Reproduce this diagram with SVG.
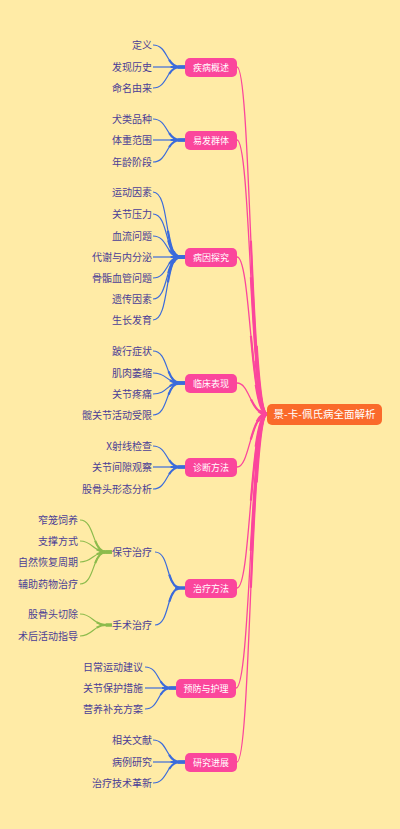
<svg xmlns="http://www.w3.org/2000/svg" xmlns:xlink="http://www.w3.org/1999/xlink" width="400" height="829" viewBox="0 0 400 829">
<style>
text{font-family:"Noto Sans CJK SC","Noto Sans",sans-serif}
.lbl{font-size:10px;fill:#4B3E96;text-anchor:end}
.bt{font-size:9px;fill:#fff;text-anchor:middle}
.rt{font-size:10.5px;fill:#fff;text-anchor:middle}
.box{fill:#FB469C}
.blue use,.green use,.pink use{fill:none}
.b1{stroke:#3B6BDB;stroke-width:1.2}
.b2{stroke:#3B6BDB;stroke-width:2.2;stroke-dasharray:0 55 45}
.b3{stroke:#3B6BDB;stroke-width:3.2;stroke-dasharray:0 82 18}
.g1{stroke:#8CBB4C;stroke-width:1.2}
.g2{stroke:#8CBB4C;stroke-width:2.2;stroke-dasharray:0 55 45}
.g3{stroke:#8CBB4C;stroke-width:3.2;stroke-dasharray:0 82 18}
.p1{stroke:#FB469C;stroke-width:1.3}
.p2{stroke:#FB469C;stroke-width:2.2;stroke-dasharray:0 50 50}
.p3{stroke:#FB469C;stroke-width:3.4;stroke-dasharray:0 80 20}
</style>
<defs>
<path id="b1a" pathLength="100" d="M153,45 C168,45 166,67 180,67 L185,67"/>
<path id="b1b" pathLength="100" d="M153,67 L185,67"/>
<path id="b1c" pathLength="100" d="M153,88 C168,88 166,67 180,67 L185,67"/>
<path id="b2a" pathLength="100" d="M153,119 C168,119 166,140 180,140 L185,140"/>
<path id="b2b" pathLength="100" d="M153,140 L185,140"/>
<path id="b2c" pathLength="100" d="M153,162 C168,162 166,140 180,140 L185,140"/>
<path id="b3a" pathLength="100" d="M153,192 C170,192 164,257 180,257 L185,257"/>
<path id="b3b" pathLength="100" d="M153,214 C169,214 165,257 180,257 L185,257"/>
<path id="b3c" pathLength="100" d="M153,236 C168,236 166,257 180,257 L185,257"/>
<path id="b3d" pathLength="100" d="M153,257 L185,257"/>
<path id="b3e" pathLength="100" d="M153,278 C168,278 166,257 180,257 L185,257"/>
<path id="b3f" pathLength="100" d="M153,299 C169,299 165,257 180,257 L185,257"/>
<path id="b3g" pathLength="100" d="M153,320 C170,320 164,257 180,257 L185,257"/>
<path id="b4a" pathLength="100" d="M153,351 C169,351 165,383 180,383 L185,383"/>
<path id="b4b" pathLength="100" d="M153,373 C168,373 166,383 180,383 L185,383"/>
<path id="b4c" pathLength="100" d="M153,394 C168,394 166,383 180,383 L185,383"/>
<path id="b4d" pathLength="100" d="M153,415 C169,415 165,383 180,383 L185,383"/>
<path id="b5a" pathLength="100" d="M153,446 C168,446 166,467 180,467 L185,467"/>
<path id="b5b" pathLength="100" d="M153,467 L185,467"/>
<path id="b5c" pathLength="100" d="M153,489 C168,489 166,467 180,467 L185,467"/>
<path id="b6a" pathLength="100" d="M155,552 C170,552 166,588 180,588 L185,588"/>
<path id="b6b" pathLength="100" d="M155,625 C170,625 166,588 180,588 L185,588"/>
<path id="b7a" pathLength="100" d="M145,667 C160,667 157,688 171,688 L176,688"/>
<path id="b7b" pathLength="100" d="M145,688 L176,688"/>
<path id="b7c" pathLength="100" d="M145,709 C160,709 157,688 171,688 L176,688"/>
<path id="b8a" pathLength="100" d="M153,740 C168,740 166,762 180,762 L185,762"/>
<path id="b8b" pathLength="100" d="M153,762 L185,762"/>
<path id="b8c" pathLength="100" d="M153,783 C168,783 166,762 180,762 L185,762"/>
<path id="g1" pathLength="100" d="M80,520 C95,520 92,552 106,552 L112,552"/>
<path id="g2" pathLength="100" d="M80,541 C93,541 93,552 106,552 L112,552"/>
<path id="g3" pathLength="100" d="M80,562 C93,562 93,552 106,552 L112,552"/>
<path id="g4" pathLength="100" d="M80,584 C95,584 92,552 106,552 L112,552"/>
<path id="g5" pathLength="100" d="M80,614 C93,614 93,625 106,625 L112,625"/>
<path id="g6" pathLength="100" d="M80,636 C93,636 93,625 106,625 L112,625"/>
<path id="pk1" pathLength="100" d="M237,67 C251,67 250,414 267,414"/>
<path id="pk2" pathLength="100" d="M237,140 C251,140 250,414 267,414"/>
<path id="pk3" pathLength="100" d="M237,257 C251,257 250,414 267,414"/>
<path id="pk4" pathLength="100" d="M237,383 C250,383 250,414 267,414"/>
<path id="pk5" pathLength="100" d="M237,467 C250,467 250,414 267,414"/>
<path id="pk6" pathLength="100" d="M237,588 C251,588 250,414 267,414"/>
<path id="pk7" pathLength="100" d="M236,688 C251,688 250,414 267,414"/>
<path id="pk8" pathLength="100" d="M237,762 C251,762 250,414 267,414"/>
</defs>
<rect width="400" height="829" fill="#FFEBA6"/>
<g id="connectors">
<g class="pink">
<use href="#pk1" class="p1"/><use href="#pk1" class="p2"/><use href="#pk1" class="p3"/>
<use href="#pk2" class="p1"/><use href="#pk2" class="p2"/><use href="#pk2" class="p3"/>
<use href="#pk3" class="p1"/><use href="#pk3" class="p2"/><use href="#pk3" class="p3"/>
<use href="#pk4" class="p1"/><use href="#pk4" class="p2"/><use href="#pk4" class="p3"/>
<use href="#pk5" class="p1"/><use href="#pk5" class="p2"/><use href="#pk5" class="p3"/>
<use href="#pk6" class="p1"/><use href="#pk6" class="p2"/><use href="#pk6" class="p3"/>
<use href="#pk7" class="p1"/><use href="#pk7" class="p2"/><use href="#pk7" class="p3"/>
<use href="#pk8" class="p1"/><use href="#pk8" class="p2"/><use href="#pk8" class="p3"/>
</g>
<g class="blue">
<use href="#b1a" class="b1"/><use href="#b1a" class="b2"/><use href="#b1a" class="b3"/>
<use href="#b1b" class="b1"/><use href="#b1b" class="b2"/><use href="#b1b" class="b3"/>
<use href="#b1c" class="b1"/><use href="#b1c" class="b2"/><use href="#b1c" class="b3"/>
<use href="#b2a" class="b1"/><use href="#b2a" class="b2"/><use href="#b2a" class="b3"/>
<use href="#b2b" class="b1"/><use href="#b2b" class="b2"/><use href="#b2b" class="b3"/>
<use href="#b2c" class="b1"/><use href="#b2c" class="b2"/><use href="#b2c" class="b3"/>
<use href="#b3a" class="b1"/><use href="#b3a" class="b2"/><use href="#b3a" class="b3"/>
<use href="#b3b" class="b1"/><use href="#b3b" class="b2"/><use href="#b3b" class="b3"/>
<use href="#b3c" class="b1"/><use href="#b3c" class="b2"/><use href="#b3c" class="b3"/>
<use href="#b3d" class="b1"/><use href="#b3d" class="b2"/><use href="#b3d" class="b3"/>
<use href="#b3e" class="b1"/><use href="#b3e" class="b2"/><use href="#b3e" class="b3"/>
<use href="#b3f" class="b1"/><use href="#b3f" class="b2"/><use href="#b3f" class="b3"/>
<use href="#b3g" class="b1"/><use href="#b3g" class="b2"/><use href="#b3g" class="b3"/>
<use href="#b4a" class="b1"/><use href="#b4a" class="b2"/><use href="#b4a" class="b3"/>
<use href="#b4b" class="b1"/><use href="#b4b" class="b2"/><use href="#b4b" class="b3"/>
<use href="#b4c" class="b1"/><use href="#b4c" class="b2"/><use href="#b4c" class="b3"/>
<use href="#b4d" class="b1"/><use href="#b4d" class="b2"/><use href="#b4d" class="b3"/>
<use href="#b5a" class="b1"/><use href="#b5a" class="b2"/><use href="#b5a" class="b3"/>
<use href="#b5b" class="b1"/><use href="#b5b" class="b2"/><use href="#b5b" class="b3"/>
<use href="#b5c" class="b1"/><use href="#b5c" class="b2"/><use href="#b5c" class="b3"/>
<use href="#b6a" class="b1"/><use href="#b6a" class="b2"/><use href="#b6a" class="b3"/>
<use href="#b6b" class="b1"/><use href="#b6b" class="b2"/><use href="#b6b" class="b3"/>
<use href="#b7a" class="b1"/><use href="#b7a" class="b2"/><use href="#b7a" class="b3"/>
<use href="#b7b" class="b1"/><use href="#b7b" class="b2"/><use href="#b7b" class="b3"/>
<use href="#b7c" class="b1"/><use href="#b7c" class="b2"/><use href="#b7c" class="b3"/>
<use href="#b8a" class="b1"/><use href="#b8a" class="b2"/><use href="#b8a" class="b3"/>
<use href="#b8b" class="b1"/><use href="#b8b" class="b2"/><use href="#b8b" class="b3"/>
<use href="#b8c" class="b1"/><use href="#b8c" class="b2"/><use href="#b8c" class="b3"/>
</g>
<g class="green">
<use href="#g1" class="g1"/><use href="#g1" class="g2"/><use href="#g1" class="g3"/>
<use href="#g2" class="g1"/><use href="#g2" class="g2"/><use href="#g2" class="g3"/>
<use href="#g3" class="g1"/><use href="#g3" class="g2"/><use href="#g3" class="g3"/>
<use href="#g4" class="g1"/><use href="#g4" class="g2"/><use href="#g4" class="g3"/>
<use href="#g5" class="g1"/><use href="#g5" class="g2"/><use href="#g5" class="g3"/>
<use href="#g6" class="g1"/><use href="#g6" class="g2"/><use href="#g6" class="g3"/>
</g>
</g>
<g id="root"><rect x="267" y="404" width="115" height="21" rx="5" fill="#FA6A2B"/><text class="rt" x="324.5" y="418.3">景-卡-佩氏病全面解析</text></g>
<g id="n1"><rect class="box" x="185" y="58" width="52" height="19" rx="5"/><text class="bt" x="211" y="70.7">疾病概述</text></g>
<g id="n2"><rect class="box" x="185" y="131" width="52" height="19" rx="5"/><text class="bt" x="211" y="143.7">易发群体</text></g>
<g id="n3"><rect class="box" x="185" y="248" width="52" height="19" rx="5"/><text class="bt" x="211" y="260.7">病因探究</text></g>
<g id="n4"><rect class="box" x="185" y="374" width="52" height="19" rx="5"/><text class="bt" x="211" y="386.7">临床表现</text></g>
<g id="n5"><rect class="box" x="185" y="458" width="52" height="19" rx="5"/><text class="bt" x="211" y="470.7">诊断方法</text></g>
<g id="n6"><rect class="box" x="185" y="579" width="52" height="19" rx="5"/><text class="bt" x="211" y="591.7">治疗方法</text></g>
<g id="n7"><rect class="box" x="176" y="679" width="60" height="19" rx="5"/><text class="bt" x="206" y="691.7">预防与护理</text></g>
<g id="n8"><rect class="box" x="185" y="753" width="52" height="19" rx="5"/><text class="bt" x="211" y="765.7">研究进展</text></g>
<g id="n1c"><text class="lbl" x="152" y="48.5">定义</text><text class="lbl" x="152" y="70.5">发现历史</text><text class="lbl" x="152" y="91.5">命名由来</text></g>
<g id="n2c"><text class="lbl" x="152" y="122.5">犬类品种</text><text class="lbl" x="152" y="143.5">体重范围</text><text class="lbl" x="152" y="165.5">年龄阶段</text></g>
<g id="n3c"><text class="lbl" x="152" y="195.5">运动因素</text><text class="lbl" x="152" y="217.5">关节压力</text><text class="lbl" x="152" y="239.5">血流问题</text><text class="lbl" x="152" y="260.5">代谢与内分泌</text><text class="lbl" x="152" y="281.5">骨骺血管问题</text><text class="lbl" x="152" y="302.5">遗传因素</text><text class="lbl" x="152" y="323.5">生长发育</text></g>
<g id="n4c"><text class="lbl" x="152" y="354.5">跛行症状</text><text class="lbl" x="152" y="376.5">肌肉萎缩</text><text class="lbl" x="152" y="397.5">关节疼痛</text><text class="lbl" x="152" y="418.5">髋关节活动受限</text></g>
<g id="n5c"><text class="lbl" x="152" y="449.5">X射线检查</text><text class="lbl" x="152" y="470.5">关节间隙观察</text><text class="lbl" x="152" y="492.5">股骨头形态分析</text></g>
<g id="n6c"><text class="lbl" x="152" y="555.5">保守治疗</text><text class="lbl" x="152" y="628.5">手术治疗</text></g>
<g id="n6g"><text class="lbl" x="78" y="523.5">窄笼饲养</text><text class="lbl" x="78" y="544.5">支撑方式</text><text class="lbl" x="78" y="565.5">自然恢复周期</text><text class="lbl" x="78" y="587.5">辅助药物治疗</text><text class="lbl" x="78" y="617.5">股骨头切除</text><text class="lbl" x="78" y="639.5">术后活动指导</text></g>
<g id="n7c"><text class="lbl" x="143" y="670.5">日常运动建议</text><text class="lbl" x="143" y="691.5">关节保护措施</text><text class="lbl" x="143" y="712.5">营养补充方案</text></g>
<g id="n8c"><text class="lbl" x="152" y="743.5">相关文献</text><text class="lbl" x="152" y="765.5">病例研究</text><text class="lbl" x="152" y="786.5">治疗技术革新</text></g>
</svg>
